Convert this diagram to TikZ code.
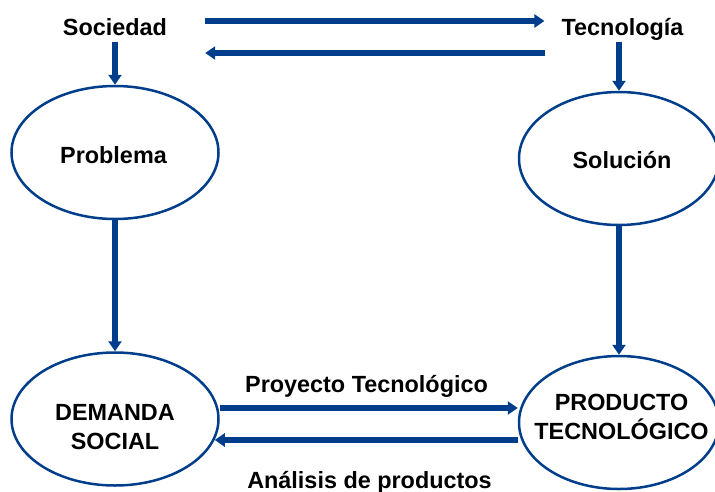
\documentclass[tikz,border=0pt]{standalone}
\usepackage{fontspec}
\setmainfont{Liberation Sans}
\usetikzlibrary{shapes.geometric,arrows.meta}
\definecolor{azul}{RGB}{0,61,138}

\begin{document}
\begin{tikzpicture}[x=1pt,y=-1pt,
  elli/.style={ellipse,draw=azul,line width=2.5pt,inner sep=0pt,minimum width=207pt,minimum height=133pt},
  elliR/.style={elli,minimum width=200pt},
  txt/.style={font=\fontsize{23.4}{29}\selectfont\bfseries,inner sep=4pt,text depth=0.25em,align=center},
  flecha/.style={draw=azul,line width=5.5pt,-{Triangle[length=10pt,width=13pt]}}
]
\useasboundingbox (0,0) rectangle (715,491);

% ellipses
\node[elli] (prob) at (115,152.5) {};
\node[elliR] (sol) at (619,158.5) {};
\node[elli] (dem) at (115,419) {};
\node[elliR] (prod) at (619,422.5) {};

% texts
\node[txt,anchor=base] (soc) at (115,35) {Sociedad};
\node[txt,anchor=base] (tec) at (622.5,35) {Tecnología};
\node[txt,anchor=base] (probt) at (113.5,163) {Problema};
\node[txt,anchor=base] (solt) at (622,168) {Solución};
\node[txt] (demt) at (115,428) {DEMANDA\\SOCIAL};
\node[txt] (prodt) at (621.5,418.4) {PRODUCTO\\TECNOLÓGICO};
\node[txt,anchor=base] (proy) at (366.5,392) {Proyecto Tecnológico};
\node[txt,anchor=base] (anal) at (369.5,488.5) {Análisis de productos};

% arrows
\draw[flecha,shorten <=34pt,shorten >=13pt] (soc.east |- 0,21) -- (tec.west |- 0,21);
\draw[flecha,shorten <=12pt,shorten >=34pt] (tec.west |- 0,53) -- (soc.east |- 0,53);
\draw[flecha] (soc.south) -- (prob.north);
\draw[flecha] (tec.south -| sol.north) -- (sol.north);
\draw[flecha] (prob.south) -- (dem.north);
\draw[flecha] (sol.south) -- (prod.north);
\draw[flecha] (dem.east |- 0,408) -- (prod.west |- 0,408);
\draw[flecha,shorten >=-5pt] (prod.west |- 0,440) -- (dem.east |- 0,440);

\end{tikzpicture}
\end{document}
